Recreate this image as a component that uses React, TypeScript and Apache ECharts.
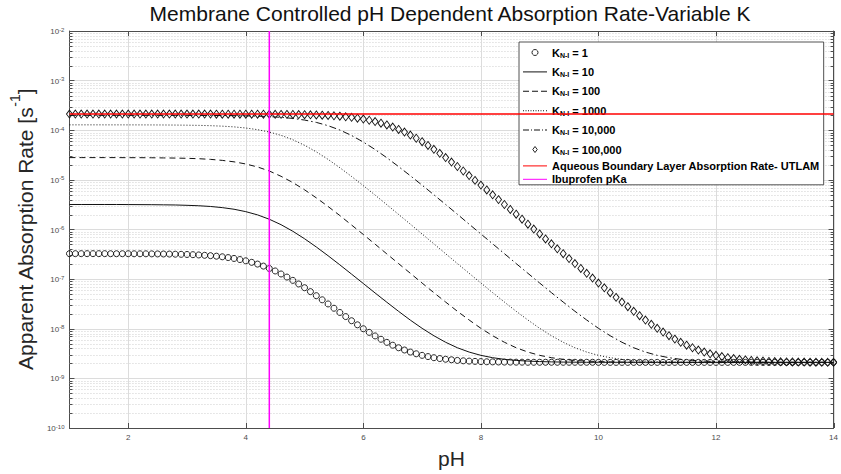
import React, { useEffect, useRef } from "react";
import * as echarts from "echarts";

// pH sampling grids
const phFine = [
  1.0, 1.1, 1.2, 1.3, 1.4, 1.5, 1.6, 1.7, 1.8, 1.9,
  2.0, 2.1, 2.2, 2.3, 2.4, 2.5, 2.6, 2.7, 2.8, 2.9,
  3.0, 3.1, 3.2, 3.3, 3.4, 3.5, 3.6, 3.7, 3.8, 3.9,
  4.0, 4.1, 4.2, 4.3, 4.4, 4.5, 4.6, 4.7, 4.8, 4.9,
  5.0, 5.1, 5.2, 5.3, 5.4, 5.5, 5.6, 5.7, 5.8, 5.9,
  6.0, 6.1, 6.2, 6.3, 6.4, 6.5, 6.6, 6.7, 6.8, 6.9,
  7.0, 7.1, 7.2, 7.3, 7.4, 7.5, 7.6, 7.7, 7.8, 7.9,
  8.0, 8.1, 8.2, 8.3, 8.4, 8.5, 8.6, 8.7, 8.8, 8.9,
  9.0, 9.1, 9.2, 9.3, 9.4, 9.5, 9.6, 9.7, 9.8, 9.9,
  10.0, 10.1, 10.2, 10.3, 10.4, 10.5, 10.6, 10.7, 10.8, 10.9,
  11.0, 11.1, 11.2, 11.3, 11.4, 11.5, 11.6, 11.7, 11.8, 11.9,
  12.0, 12.1, 12.2, 12.3, 12.4, 12.5, 12.6, 12.7, 12.8, 12.9,
  13.0, 13.1, 13.2, 13.3, 13.4, 13.5, 13.6, 13.7, 13.8, 13.9,
  14.0,
];

const phCoarse = [
  1.0, 1.2, 1.4, 1.6, 1.8,
  2.0, 2.2, 2.4, 2.6, 2.8,
  3.0, 3.2, 3.4, 3.6, 3.8,
  4.0, 4.2, 4.4, 4.6, 4.8,
  5.0, 5.2, 5.4, 5.6, 5.8,
  6.0, 6.2, 6.4, 6.6, 6.8,
  7.0, 7.2, 7.4, 7.6, 7.8,
  8.0, 8.2, 8.4, 8.6, 8.8,
  9.0, 9.2, 9.4, 9.6, 9.8,
  10.0, 10.2, 10.4, 10.6, 10.8,
  11.0, 11.2, 11.4, 11.6, 11.8,
  12.0, 12.2, 12.4, 12.6, 12.8,
  13.0, 13.2, 13.4, 13.6, 13.8,
  14.0,
];

// K = 1 (circles), on phFine
const rateK1 = [
  3.26e-7, 3.26e-7, 3.26e-7, 3.26e-7, 3.26e-7, 3.26e-7, 3.26e-7, 3.25e-7, 3.25e-7, 3.25e-7,
  3.25e-7, 3.24e-7, 3.24e-7, 3.24e-7, 3.23e-7, 3.22e-7, 3.21e-7, 3.2e-7, 3.18e-7, 3.16e-7,
  3.14e-7, 3.11e-7, 3.07e-7, 3.02e-7, 2.97e-7, 2.9e-7, 2.82e-7, 2.72e-7, 2.61e-7, 2.48e-7,
  2.34e-7, 2.18e-7, 2.01e-7, 1.83e-7, 1.64e-7, 1.46e-7, 1.27e-7, 1.1e-7, 9.44e-8, 7.99e-8,
  6.71e-8, 5.6e-8, 4.64e-8, 3.83e-8, 3.16e-8, 2.59e-8, 2.13e-8, 1.76e-8, 1.45e-8, 1.2e-8,
  1.0e-8, 8.45e-9, 7.17e-9, 6.14e-9, 5.32e-9, 4.66e-9, 4.14e-9, 3.73e-9, 3.39e-9, 3.13e-9,
  2.91e-9, 2.75e-9, 2.61e-9, 2.51e-9, 2.43e-9, 2.37e-9, 2.3e-9, 2.26e-9, 2.23e-9, 2.2e-9,
  2.18e-9, 2.16e-9, 2.15e-9, 2.14e-9, 2.13e-9, 2.13e-9, 2.12e-9, 2.12e-9, 2.11e-9, 2.11e-9,
  2.11e-9, 2.11e-9, 2.11e-9, 2.11e-9, 2.11e-9, 2.11e-9, 2.11e-9, 2.11e-9, 2.11e-9, 2.11e-9,
  2.1e-9, 2.1e-9, 2.1e-9, 2.1e-9, 2.1e-9, 2.1e-9, 2.1e-9, 2.1e-9, 2.1e-9, 2.1e-9,
  2.1e-9, 2.1e-9, 2.1e-9, 2.1e-9, 2.1e-9, 2.1e-9, 2.1e-9, 2.1e-9, 2.1e-9, 2.1e-9,
  2.1e-9, 2.1e-9, 2.1e-9, 2.1e-9, 2.1e-9, 2.1e-9, 2.1e-9, 2.1e-9, 2.1e-9, 2.1e-9,
  2.1e-9, 2.1e-9, 2.1e-9, 2.1e-9, 2.1e-9, 2.1e-9, 2.1e-9, 2.1e-9, 2.1e-9, 2.1e-9,
  2.1e-9,
];

// K = 100,000 (diamonds), on phFine
const rateK100000 = [
  2.12e-4, 2.12e-4, 2.12e-4, 2.12e-4, 2.12e-4, 2.12e-4, 2.12e-4, 2.12e-4, 2.12e-4, 2.12e-4,
  2.12e-4, 2.12e-4, 2.12e-4, 2.12e-4, 2.12e-4, 2.12e-4, 2.12e-4, 2.12e-4, 2.12e-4, 2.12e-4,
  2.12e-4, 2.12e-4, 2.12e-4, 2.12e-4, 2.12e-4, 2.11e-4, 2.11e-4, 2.11e-4, 2.11e-4, 2.11e-4,
  2.11e-4, 2.11e-4, 2.11e-4, 2.11e-4, 2.1e-4, 2.1e-4, 2.09e-4, 2.09e-4, 2.08e-4, 2.07e-4,
  2.06e-4, 2.05e-4, 2.03e-4, 2.01e-4, 1.99e-4, 1.96e-4, 1.92e-4, 1.87e-4, 1.82e-4, 1.75e-4,
  1.68e-4, 1.59e-4, 1.5e-4, 1.39e-4, 1.28e-4, 1.16e-4, 1.04e-4, 9.19e-5, 8.01e-5, 6.9e-5,
  5.88e-5, 4.95e-5, 4.13e-5, 3.42e-5, 2.81e-5, 2.29e-5, 1.86e-5, 1.51e-5, 1.22e-5, 9.77e-6,
  7.84e-6, 6.27e-6, 5.01e-6, 4.0e-6, 3.19e-6, 2.54e-6, 2.03e-6, 1.61e-6, 1.28e-6, 1.02e-6,
  8.13e-7, 6.46e-7, 5.14e-7, 4.09e-7, 3.26e-7, 2.59e-7, 2.06e-7, 1.64e-7, 1.31e-7, 1.05e-7,
  8.34e-8, 6.67e-8, 5.34e-8, 4.29e-8, 3.45e-8, 2.78e-8, 2.25e-8, 1.83e-8, 1.5e-8, 1.23e-8,
  1.02e-8, 8.56e-9, 7.23e-9, 6.18e-9, 5.34e-9, 4.67e-9, 4.14e-9, 3.72e-9, 3.39e-9, 3.12e-9,
  2.91e-9, 2.75e-9, 2.61e-9, 2.51e-9, 2.42e-9, 2.36e-9, 2.3e-9, 2.26e-9, 2.23e-9, 2.2e-9,
  2.18e-9, 2.16e-9, 2.15e-9, 2.14e-9, 2.13e-9, 2.13e-9, 2.12e-9, 2.12e-9, 2.11e-9, 2.11e-9,
  2.11e-9,
];

// K = 10 (solid), on phCoarse
const rateK10 = [
  3.19e-6, 3.19e-6, 3.19e-6, 3.19e-6, 3.19e-6,
  3.18e-6, 3.17e-6, 3.16e-6, 3.14e-6, 3.12e-6,
  3.07e-6, 3.01e-6, 2.91e-6, 2.76e-6, 2.56e-6,
  2.29e-6, 1.97e-6, 1.61e-6, 1.25e-6, 9.21e-7,
  6.51e-7, 4.44e-7, 2.96e-7, 1.94e-7, 1.26e-7,
  8.15e-8, 5.26e-8, 3.42e-8, 2.24e-8, 1.49e-8,
  1.02e-8, 7.23e-9, 5.34e-9, 4.14e-9, 3.39e-9,
  2.91e-9, 2.61e-9, 2.42e-9, 2.3e-9, 2.23e-9,
  2.18e-9, 2.15e-9, 2.13e-9, 2.12e-9, 2.11e-9,
  2.11e-9, 2.11e-9, 2.11e-9, 2.11e-9, 2.11e-9,
  2.1e-9, 2.1e-9, 2.1e-9, 2.1e-9, 2.1e-9,
  2.1e-9, 2.1e-9, 2.1e-9, 2.1e-9, 2.1e-9,
  2.1e-9, 2.1e-9, 2.1e-9, 2.1e-9, 2.1e-9,
  2.1e-9,
];

// K = 100 (dashed), on phCoarse
const rateK100 = [
  2.81e-5, 2.81e-5, 2.81e-5, 2.81e-5, 2.81e-5,
  2.8e-5, 2.8e-5, 2.79e-5, 2.77e-5, 2.75e-5,
  2.72e-5, 2.67e-5, 2.59e-5, 2.47e-5, 2.31e-5,
  2.09e-5, 1.82e-5, 1.51e-5, 1.18e-5, 8.84e-6,
  6.31e-6, 4.34e-6, 2.91e-6, 1.91e-6, 1.23e-6,
  7.93e-7, 5.06e-7, 3.22e-7, 2.05e-7, 1.31e-7,
  8.33e-8, 5.33e-8, 3.45e-8, 2.25e-8, 1.5e-8,
  1.02e-8, 7.23e-9, 5.34e-9, 4.14e-9, 3.39e-9,
  2.91e-9, 2.61e-9, 2.42e-9, 2.3e-9, 2.23e-9,
  2.18e-9, 2.15e-9, 2.13e-9, 2.12e-9, 2.11e-9,
  2.11e-9, 2.11e-9, 2.11e-9, 2.11e-9, 2.11e-9,
  2.1e-9, 2.1e-9, 2.1e-9, 2.1e-9, 2.1e-9,
  2.1e-9, 2.1e-9, 2.1e-9, 2.1e-9, 2.1e-9,
  2.1e-9,
];

// K = 1000 (dotted), on phCoarse
const rateK1000 = [
  1.285e-4, 1.285e-4, 1.285e-4, 1.284e-4, 1.284e-4,
  1.283e-4, 1.282e-4, 1.28e-4, 1.277e-4, 1.272e-4,
  1.265e-4, 1.254e-4, 1.236e-4, 1.209e-4, 1.169e-4,
  1.11e-4, 1.028e-4, 9.2e-5, 7.89e-5, 6.44e-5,
  4.98e-5, 3.67e-5, 2.59e-5, 1.76e-5, 1.17e-5,
  7.65e-6, 4.94e-6, 3.16e-6, 2.01e-6, 1.28e-6,
  8.11e-7, 5.14e-7, 3.25e-7, 2.06e-7, 1.31e-7,
  8.35e-8, 5.34e-8, 3.45e-8, 2.25e-8, 1.5e-8,
  1.02e-8, 7.23e-9, 5.34e-9, 4.14e-9, 3.39e-9,
  2.91e-9, 2.61e-9, 2.42e-9, 2.3e-9, 2.23e-9,
  2.18e-9, 2.15e-9, 2.13e-9, 2.12e-9, 2.11e-9,
  2.11e-9, 2.11e-9, 2.11e-9, 2.11e-9, 2.11e-9,
  2.1e-9, 2.1e-9, 2.1e-9, 2.1e-9, 2.1e-9,
  2.1e-9,
];

// K = 10,000 (dash-dot), on phCoarse
const rateK10000 = [
  1.999e-4, 1.999e-4, 1.998e-4, 1.998e-4, 1.998e-4,
  1.998e-4, 1.998e-4, 1.997e-4, 1.997e-4, 1.996e-4,
  1.994e-4, 1.991e-4, 1.986e-4, 1.979e-4, 1.968e-4,
  1.951e-4, 1.924e-4, 1.882e-4, 1.821e-4, 1.73e-4,
  1.605e-4, 1.439e-4, 1.236e-4, 1.011e-4, 7.84e-5,
  5.78e-5, 4.09e-5, 2.79e-5, 1.85e-5, 1.21e-5,
  7.82e-6, 5.01e-6, 3.19e-6, 2.03e-6, 1.28e-6,
  8.13e-7, 5.14e-7, 3.26e-7, 2.06e-7, 1.31e-7,
  8.34e-8, 5.34e-8, 3.45e-8, 2.25e-8, 1.5e-8,
  1.02e-8, 7.23e-9, 5.34e-9, 4.14e-9, 3.39e-9,
  2.91e-9, 2.61e-9, 2.42e-9, 2.3e-9, 2.23e-9,
  2.18e-9, 2.15e-9, 2.13e-9, 2.12e-9, 2.11e-9,
  2.11e-9, 2.11e-9, 2.11e-9, 2.11e-9, 2.11e-9,
  2.1e-9,
];

const utlamRate = 2.13e-4;
const ibuprofenPKa = 4.4;

const xMin = 1;
const xMax = 14;
const yMin = 1e-10;
const yMax = 1e-2;
const xTickValues = [2, 4, 6, 8, 10, 12, 14];
const decadeExponents = [-10, -9, -8, -7, -6, -5, -4, -3];
const minorMultipliers = [2, 3, 4, 5, 6, 7, 8, 9];

const kLabels = ["1", "10", "100", "1000", "10,000", "100,000"];
const seriesNames = [
  "K_N-I = 1",
  "K_N-I = 10",
  "K_N-I = 100",
  "K_N-I = 1000",
  "K_N-I = 10,000",
  "K_N-I = 100,000",
  "Aqueous Boundary Layer Absorption Rate- UTLAM",
  "Ibuprofen pKa",
];

const FONT = "'Liberation Sans', Arial, Helvetica, sans-serif";
const INK = "#111111";
const AXIS = "#4d4d4d";
const GRID = "#dcdcdc";
const MINOR_GRID = "#cfcfcf";
const CLEAR = "rgba(255,255,255,0)";

// legend sample icons
const ICON_SOLID = "path://M0,0H24V1H0Z";
const ICON_DASH = "path://M0,0H6V1H0Z M9,0H15V1H9Z M18,0H24V1H18Z";
const ICON_DOT =
  "path://M0,0H1V1H0Z M2.5,0H3.5V1H2.5Z M5,0H6V1H5Z M7.5,0H8.5V1H7.5Z M10,0H11V1H10Z M12.5,0H13.5V1H12.5Z M15,0H16V1H15Z M17.5,0H18.5V1H17.5Z M20,0H21V1H20Z M23,0H24V1H23Z";
const ICON_DASHDOT = "path://M0,0H6V1H0Z M8,0H9V1H8Z M11,0H17V1H11Z M19,0H20V1H19Z M22,0H24V1H22Z";
const ICON_DIAMOND = "path://M3,0L6,4L3,8L0,4Z";

const zip = (xs: number[], ys: number[]) => xs.map((x, i) => [x, ys[i]]);

export default function App() {
  const ref = useRef<HTMLDivElement>(null);

  useEffect(() => {
    if (!ref.current) return;
    const chart = echarts.init(ref.current, null, { renderer: "svg" });

    const minorValues: number[][] = [];
    decadeExponents.forEach((e) => {
      minorMultipliers.forEach((m) => {
        minorValues.push([xMin, m * Math.pow(10, e)]);
      });
    });

    const legendFormatter = (name: string) => {
      const idx = seriesNames.indexOf(name);
      if (idx >= 0 && idx < 6) {
        return `{k|K}{sub|N-I}{k| = ${kLabels[idx]}}`;
      }
      return `{p|${name}}`;
    };

    const hollow = { color: "#ffffff", borderColor: INK, borderWidth: 0.9 };

    const option: any = {
      animation: false,
      backgroundColor: "#ffffff",
      textStyle: { fontFamily: FONT },
      title: {
        text: "Membrane Controlled pH Dependent Absorption Rate-Variable K",
        left: 450,
        top: 3,
        textAlign: "center",
        padding: 0,
        textStyle: { fontFamily: FONT, fontSize: 21, fontWeight: "normal", color: "#111" },
      },
      grid: { left: 63, right: 3, top: 31, bottom: 46, containLabel: false },
      legend: {
        orient: "vertical",
        left: 519,
        top: 42,
        padding: [2, 4, 0, 4],
        itemGap: 2.4,
        itemWidth: 24,
        itemHeight: 6,
        backgroundColor: "#ffffff",
        borderColor: "#262626",
        borderWidth: 0.8,
        selectedMode: false,
        data: [
          { name: seriesNames[0], icon: "circle", itemStyle: hollow },
          { name: seriesNames[1], icon: ICON_SOLID },
          { name: seriesNames[2], icon: ICON_DASH },
          { name: seriesNames[3], icon: ICON_DOT },
          { name: seriesNames[4], icon: ICON_DASHDOT },
          { name: seriesNames[5], icon: ICON_DIAMOND, itemStyle: hollow },
          { name: seriesNames[6], icon: ICON_SOLID },
          { name: seriesNames[7], icon: ICON_SOLID },
        ],
        formatter: legendFormatter,
        textStyle: {
          fontFamily: FONT,
          color: "#000",
          rich: {
            k: { fontFamily: FONT, fontSize: 11, fontWeight: "bold", color: "#000", lineHeight: 12, padding: [3, 0, 3, 0], verticalAlign: "middle" },
            sub: { fontFamily: FONT, fontSize: 7, fontWeight: "bold", color: "#000", lineHeight: 8, verticalAlign: "bottom" },
            p: { fontFamily: FONT, fontSize: 11, fontWeight: "bold", color: "#000", lineHeight: 14 },
          },
        },
      },
      xAxis: [
        {
          type: "value",
          min: xMin,
          max: xMax,
          interval: 1,
          name: "pH",
          nameLocation: "middle",
          nameGap: 20,
          nameTextStyle: { fontFamily: FONT, fontSize: 21, color: "#262626" },
          axisLine: { show: true, lineStyle: { color: AXIS, width: 1 } },
          axisTick: { show: false },
          splitLine: { show: false },
          axisLabel: {
            margin: 5,
            fontFamily: FONT,
            fontSize: 8,
            color: AXIS,
            formatter: (v: number) => (xTickValues.indexOf(v) >= 0 ? String(v) : ""),
          },
        },
        {
          type: "value",
          position: "top",
          min: xMin,
          max: xMax,
          interval: 1,
          axisLine: { show: true, lineStyle: { color: AXIS, width: 1 } },
          axisTick: { show: false },
          axisLabel: { show: false },
          splitLine: { show: false },
        },
      ],
      yAxis: [
        {
          type: "log",
          logBase: 10,
          min: yMin,
          max: yMax,
          splitNumber: 8,
          name: "{a|Apparent Absorption Rate [s}{s|-1}{a|]}",
          nameLocation: "middle",
          nameGap: 24,
          nameTextStyle: {
            fontFamily: FONT,
            color: "#262626",
            rich: {
              a: { fontFamily: FONT, fontSize: 21, color: "#262626", lineHeight: 28, verticalAlign: "bottom" },
              s: { fontFamily: FONT, fontSize: 14, color: "#262626", lineHeight: 14, verticalAlign: "top" },
            },
          },
          axisLine: { show: true, lineStyle: { color: AXIS, width: 1 } },
          axisTick: { show: true, inside: true, length: 5, lineStyle: { color: AXIS } },
          splitLine: { show: true, lineStyle: { color: GRID, width: 1 } },
          axisLabel: {
            margin: 5,
            fontFamily: FONT,
            color: AXIS,
            formatter: (v: number) => `{b|10}{s|${Math.round(Math.log10(v))}}`,
            rich: {
              b: { fontFamily: FONT, fontSize: 8, color: AXIS, lineHeight: 9, padding: [4, 0, 0, 0], verticalAlign: "bottom" },
              s: { fontFamily: FONT, fontSize: 6, color: AXIS, lineHeight: 7, verticalAlign: "top" },
            },
          },
        },
        {
          type: "log",
          logBase: 10,
          min: yMin,
          max: yMax,
          splitNumber: 8,
          position: "right",
          axisLine: { show: true, lineStyle: { color: AXIS, width: 1 } },
          axisTick: { show: true, inside: true, length: 5, lineStyle: { color: AXIS } },
          splitLine: { show: false },
          axisLabel: { show: false },
        },
      ],
      series: [
        {
          type: "custom",
          name: "minorGrid",
          z: 1,
          silent: true,
          xAxisIndex: 0,
          yAxisIndex: 0,
          data: minorValues,
          renderItem: (params: any, api: any) => {
            const pt = api.coord([api.value(0), api.value(1)]);
            const cs = params.coordSys;
            const y = Math.round(pt[1]) + 0.5;
            return {
              type: "group",
              children: [
                {
                  type: "line",
                  shape: { x1: cs.x, y1: y, x2: cs.x + cs.width, y2: y },
                  style: { stroke: MINOR_GRID, lineWidth: 1, lineDash: [1, 2] },
                },
                {
                  type: "line",
                  shape: { x1: cs.x, y1: y, x2: cs.x + 3, y2: y },
                  style: { stroke: AXIS, lineWidth: 1 },
                },
                {
                  type: "line",
                  shape: { x1: cs.x + cs.width - 3, y1: y, x2: cs.x + cs.width, y2: y },
                  style: { stroke: AXIS, lineWidth: 1 },
                },
              ],
            };
          },
        },
        {
          type: "custom",
          name: "xGrid",
          z: 1,
          silent: true,
          xAxisIndex: 0,
          yAxisIndex: 0,
          data: xTickValues.map((x) => [x, yMin]),
          renderItem: (params: any, api: any) => {
            const pt = api.coord([api.value(0), api.value(1)]);
            const cs = params.coordSys;
            const x = Math.round(pt[0]) + 0.5;
            return {
              type: "group",
              children: [
                {
                  type: "line",
                  shape: { x1: x, y1: cs.y, x2: x, y2: cs.y + cs.height },
                  style: { stroke: GRID, lineWidth: 1 },
                },
                {
                  type: "line",
                  shape: { x1: x, y1: cs.y + cs.height - 5, x2: x, y2: cs.y + cs.height },
                  style: { stroke: AXIS, lineWidth: 1 },
                },
                {
                  type: "line",
                  shape: { x1: x, y1: cs.y, x2: x, y2: cs.y + 5 },
                  style: { stroke: AXIS, lineWidth: 1 },
                },
              ],
            };
          },
        },
        {
          type: "scatter",
          name: seriesNames[0],
          data: zip(phFine, rateK1),
          symbol: "circle",
          symbolSize: 6,
          itemStyle: { color: CLEAR, borderColor: INK, borderWidth: 0.9, opacity: 1 },
          z: 3,
        },
        {
          type: "line",
          name: seriesNames[1],
          data: zip(phCoarse, rateK10),
          symbol: "none",
          color: INK,
          lineStyle: { color: INK, width: 1 },
          z: 3,
        },
        {
          type: "line",
          name: seriesNames[2],
          data: zip(phCoarse, rateK100),
          symbol: "none",
          color: INK,
          lineStyle: { color: INK, width: 1, type: [6, 4] },
          z: 3,
        },
        {
          type: "line",
          name: seriesNames[3],
          data: zip(phCoarse, rateK1000),
          symbol: "none",
          color: INK,
          lineStyle: { color: INK, width: 1, type: [1, 2] },
          z: 3,
        },
        {
          type: "line",
          name: seriesNames[4],
          data: zip(phCoarse, rateK10000),
          symbol: "none",
          color: INK,
          lineStyle: { color: INK, width: 1, type: [7, 3, 1.5, 3] },
          z: 3,
        },
        {
          type: "scatter",
          name: seriesNames[5],
          data: zip(phFine, rateK100000),
          symbol: "diamond",
          symbolSize: [6, 8],
          itemStyle: { color: CLEAR, borderColor: INK, borderWidth: 0.9, opacity: 1 },
          z: 3,
        },
        {
          type: "line",
          name: seriesNames[6],
          data: [
            [xMin, utlamRate],
            [xMax, utlamRate],
          ],
          symbol: "none",
          color: "#ff0000",
          lineStyle: { color: "#ff0000", width: 1.5 },
          z: 4,
        },
        {
          type: "line",
          name: seriesNames[7],
          data: [
            [ibuprofenPKa, yMin],
            [ibuprofenPKa, yMax],
          ],
          symbol: "none",
          color: "#ff00ff",
          lineStyle: { color: "#ff00ff", width: 1.5 },
          z: 4,
        },
      ],
    };

    chart.setOption(option);
    return () => chart.dispose();
  }, []);

  return (
    <div
      ref={ref}
      style={{ position: "fixed", left: 0, top: 0, width: 841, height: 474, background: "#fff" }}
    />
  );
}
